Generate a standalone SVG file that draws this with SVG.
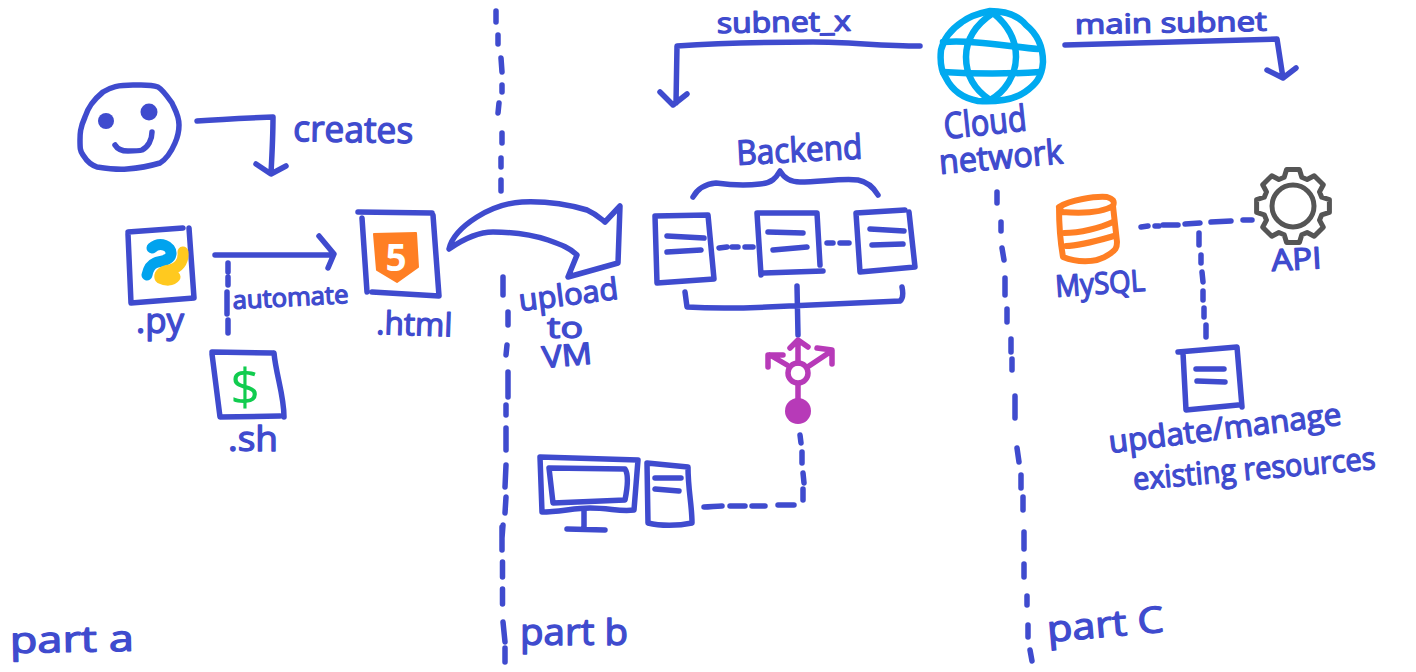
<svg xmlns="http://www.w3.org/2000/svg" width="1416" height="672" viewBox="0 0 1416 672">
<style>
.s{fill:none;stroke:#3f4bce;stroke-width:5.500;stroke-linecap:round;stroke-linejoin:round}
.t{fill:#3f4bce;stroke:#3f4bce;stroke-width:1.300;stroke-linejoin:round;font-family:"Open Sans","Noto Sans",sans-serif;font-weight:400}
.g{fill:none;stroke:#00aaf0;stroke-width:6.500;stroke-linecap:round;stroke-linejoin:round}
.o{fill:none;stroke:#ff7f24;stroke-width:6;stroke-linecap:round;stroke-linejoin:round}
.m{fill:none;stroke:#b73ab8;stroke-width:5.500;stroke-linecap:round;stroke-linejoin:round}
</style>
<rect width="1416" height="672" fill="#fff"/>

<g id="dividers" class="s">
<path d="M496 11v11M498 35v9M501 58l1 14M502 85v7M499 103l-1 10M502 133v10M501 158v9M501 180v11"/>
<path d="M503 277v18M508 312v13M507 345l-1 10M508 372v25M506 405v10M506 428v22M506 465l-1 22M506 497l-1 16M503 525l-1 13M502 527v23M502.500 562v15M502.500 589v15M503 622l2 20M505 648v14"/>
<path d="M997 192v11M1001 222v9M1002 248l2 12M1005 278v17M1007 309v13M1011 339v13M1012 359v11M1015 396v22M1017 448l2 14M1021 475v13M1023 497v13M1024 532v17M1024 564v13M1027 596v9M1028 625v12M1030 650l2 11"/>
</g>

<g id="connectors">
<g class="s">
<path d="M197 121C225 119 250 118 273 117C273 135 272 155 271 173M256 164L271 174L286 166"/>
<path d="M215 255H333M319 236L334 254L328 268"/>
<path d="M228 263v9M228 277v8M227 292v22M228 320v13"/>
<path d="M719 248l8-1M732 247h6M745 247h8M827 243h6M840 243h9"/>
<path d="M693 197C698 188 705 184 716 183C730 185 745 186 760 184C772 183 776 178 780 171C784 178 790 182 800 182C820 182 842 178 858 180C868 182 874 188 878 195"/>
<path d="M685 292L687 307C720 309 745 308 767 307C810 305 860 303 900 301C904 298 903 292 902 287M797 286L798 335"/>
<path d="M800 435l1 8M802 452v11M803 473l1 10M803 489v11M704 507c6 0 12-1 18-1M730 506h15M752 506h13M778 505h16"/>
<path d="M920 46C880 46 850 42 813 42C770 42 720 43 677 46L676 103M660 92L673 105L687 94"/>
<path d="M1065 45C1140 43 1210 41 1277 39L1283 78M1267 70L1283 78L1296 68"/>
<path d="M1141 227l7-1M1155 226h4M1163 225h15M1185 224l15-1M1211 222l20-1M1243 220h9M1199 233v12M1201 255v8M1202 272l1 10M1203 291v9M1204 308v9M1206 325v12"/>
</g>
<path id="upload-arrow" class="s" d="M449 249C451 240 458 229 477 217C490 209 505 203 522 202C545 201 570 205 587 210C596 214 600 218 605 222L620 206L618 263L568 277L577 255C570 248 562 245 548 240C530 234 510 232 493 232C478 232 462 240 449 249Z"/>
</g>

<g id="user" class="s">
<path d="M133 85C118 85 111 87 103 92C92 101 88 108 85 117C80 128 80 134 80 140C80 148 80 151 83 155C88 163 92 165 97 167C110 169 118 170 127 169C140 168 150 166 160 163C168 158 172 150 175 143C179 134 179 129 179 125C179 115 175 110 172 103C167 96 163 90 158 87C150 84 141 85 133 85Z"/>
<path d="M115 145C118 150 122 151 128 151C134 151 139 151 142 150C148 147 152 140 152 132"/>
<circle cx="106" cy="121" r="8" fill="#3f4bce" stroke="none"/>
<circle cx="149" cy="112" r="8.500" fill="#3f4bce" stroke="none"/>
</g>

<g id="py">
<path class="s" d="M128 232L183 228M189 228L194 298L131 303L128 234"/>
<path d="M152 248C160 241 172 246 171 254C170 261 160 261 155 263C150 265 148 270 147 275" fill="none" stroke="#00a3ee" stroke-width="11" stroke-linecap="round" stroke-linejoin="round"/>
<path d="M183 252C184 262 178 268 170 270C162 271 159 274 160 278C166 281 172 281 175 277" fill="none" stroke="#ffc91f" stroke-width="11" stroke-linecap="round" stroke-linejoin="round"/>
</g>

<g id="sh">
<path class="s" d="M212 352L273 353M274 353C276 375 284 395 284 417M280 416L220 417L212 354"/>
<text x="245" y="405" text-anchor="middle" font-family="'Open Sans',sans-serif" font-size="52" fill="#11cc4f">$</text>
</g>

<g id="html">
<path class="s" d="M358 212L432 213M433 215L439 296L372 292M362 218L367 292"/>
<path d="M374 234L416 233L418 267L397 282L377 270Z" fill="#ff7f24" stroke="#ff7f24" stroke-width="2" stroke-linejoin="round"/>
<text x="396" y="271" text-anchor="middle" font-family="'Open Sans',sans-serif" font-size="37" font-weight="700" fill="#fff">5</text>
</g>

<g id="backend-1" class="s">
<path d="M655 216L708 215L714 279L657 283Z"/>
<path d="M667 236L704 238M667 252L701 250"/>
</g>
<g id="backend-2" class="s">
<path d="M757 213L817 213L820 265M823 271L764 273M761 275L757 213"/>
<path d="M768 232L803 233M773 250L807 247"/>
</g>
<g id="backend-3" class="s">
<path d="M856 213L905 210M909 212L915 267L860 272L856 213"/>
<path d="M870 229L904 231M872 245L903 244"/>
</g>

<g id="router" class="m">
<circle cx="798" cy="373" r="10"/>
<path d="M798 385V402M798 363V342M790 348L798 340L808 347M787 365L770 355M768 367L768 355L783 355M809 366L830 352M817 348L832 350L832 364"/>
<circle cx="798" cy="411" r="13" fill="#b73ab8" stroke="none"/>
</g>

<g id="computer" class="s">
<path d="M540 457L638 460L634 510C620 512 610 508 590 508C575 508 558 512 542 512Z"/>
<path d="M549 468L625 469C629 475 627 490 625 500L553 503Z"/>
<path d="M584 510V527M567 529L605 530"/>
<path d="M647 463L688 467C688 490 692 505 692 523C678 526 660 526 648 523Z"/>
<path d="M655 478H681M655 489L679 491"/>
</g>

<g id="cloud" class="g">
<path d="M990 11C1005 11 1018 15 1026 25C1036 33 1043 45 1043 62C1042 78 1035 85 1025 92C1012 101 995 102 978 101C962 98 952 90 946 78C940 70 940 60 941 50C944 38 950 30 962 22C970 16 980 13 990 11Z"/>
<path d="M993 13C975 25 966 40 966 57C966 75 975 90 990 100C1005 92 1016 75 1016 57C1016 40 1008 25 993 13Z"/>
<path d="M943 42C975 40 1005 46 1038 49M943 72C975 74 1010 74 1040 72"/>
</g>

<g id="mysql" class="o">
<path d="M1059 207C1070 200 1095 196 1107 197C1113 199 1115 201 1113 206C1100 214 1075 213 1062 212L1059 207C1059 225 1060 240 1063 257C1075 262 1095 264 1108 255C1116 250 1117 248 1117 242L1113 206"/>
<path d="M1064 233C1080 233 1100 228 1113 222M1066 246C1080 246 1100 240 1114 236"/>
</g>

<g id="api" fill="none" stroke="#555" stroke-width="5" stroke-linejoin="round" transform="translate(1293 206)">
<polygon points="28.700,-8.800 36.400,-6.400 36.400,6.400 28.700,8.800 26.500,14.100 30.300,21.200 21.200,30.300 14.100,26.500 8.800,28.700 6.400,36.400 -6.400,36.400 -8.800,28.700 -14.100,26.500 -21.200,30.300 -30.300,21.200 -26.500,14.100 -28.700,8.800 -36.400,6.400 -36.400,-6.400 -28.700,-8.800 -26.500,-14.100 -30.300,-21.200 -21.200,-30.300 -14.100,-26.500 -8.800,-28.700 -6.400,-36.400 6.400,-36.400 8.800,-28.700 14.100,-26.500 21.200,-30.300 30.300,-21.200 26.500,-14.100"/>
<circle r="21"/>
</g>

<g id="update-doc" class="s">
<path d="M1178 352L1237 347L1242 407M1238 405L1186 410L1183 353"/>
<path d="M1196 369H1224M1197 381L1225 382"/>
</g>

<g id="labels">
<text class="t" x="293" y="141" font-size="36" textLength="120" lengthAdjust="spacingAndGlyphs" transform="rotate(1 293 141)">creates</text>
<text class="t" x="136" y="333" font-size="34" textLength="48" lengthAdjust="spacingAndGlyphs">.py</text>
<text class="t" x="233" y="309" font-size="25" textLength="116" lengthAdjust="spacingAndGlyphs" transform="rotate(-3 233 309)">automate</text>
<text class="t" x="228" y="451" font-size="34" textLength="50" lengthAdjust="spacingAndGlyphs">.sh</text>
<text class="t" x="376" y="334" font-size="32" textLength="76" lengthAdjust="spacingAndGlyphs" transform="rotate(2 376 334)">.html</text>
<text class="t" x="520" y="311" font-size="30" textLength="100" lengthAdjust="spacingAndGlyphs" transform="rotate(-7 520 311)">upload</text>
<text class="t" x="547" y="338" font-size="30" textLength="36" lengthAdjust="spacingAndGlyphs">to</text>
<text class="t" x="543" y="368" font-size="30" textLength="50" lengthAdjust="spacingAndGlyphs" transform="rotate(-5 543 368)">VM</text>
<text class="t" x="737" y="165" font-size="34" textLength="126" lengthAdjust="spacingAndGlyphs" transform="rotate(-3 737 165)">Backend</text>
<text class="t" x="717" y="33" font-size="28" textLength="134" lengthAdjust="spacingAndGlyphs" transform="rotate(-1 717 33)">subnet_x</text>
<text class="t" x="1075" y="34" font-size="27" textLength="192" lengthAdjust="spacingAndGlyphs" transform="rotate(-1 1075 34)">main subnet</text>
<text class="t" x="945" y="139" font-size="36" textLength="83" lengthAdjust="spacingAndGlyphs" transform="rotate(-6 945 139)">Cloud</text>
<text class="t" x="940" y="174" font-size="34" textLength="124" lengthAdjust="spacingAndGlyphs" transform="rotate(-5 940 174)">network</text>
<text class="t" x="1056" y="297" font-size="30" textLength="90" lengthAdjust="spacingAndGlyphs" transform="rotate(-4 1056 297)">MySQL</text>
<text class="t" x="1272" y="271" font-size="30" textLength="50" lengthAdjust="spacingAndGlyphs" transform="rotate(-3 1272 271)">API</text>
<text class="t" x="1110" y="453" font-size="31" textLength="234" lengthAdjust="spacingAndGlyphs" transform="rotate(-7 1110 453)">update/manage</text>
<text class="t" x="1134" y="490" font-size="31" textLength="243" lengthAdjust="spacingAndGlyphs" transform="rotate(-5 1134 490)">existing resources</text>
<text class="t" x="10" y="653" font-size="36" textLength="124" lengthAdjust="spacingAndGlyphs" transform="rotate(-1 10 653)">part a</text>
<text class="t" x="520" y="645" font-size="36" textLength="108" lengthAdjust="spacingAndGlyphs">part b</text>
<text class="t" x="1048" y="642" font-size="36" textLength="117" lengthAdjust="spacingAndGlyphs" transform="rotate(-5 1048 642)">part C</text>
</g>
</svg>
